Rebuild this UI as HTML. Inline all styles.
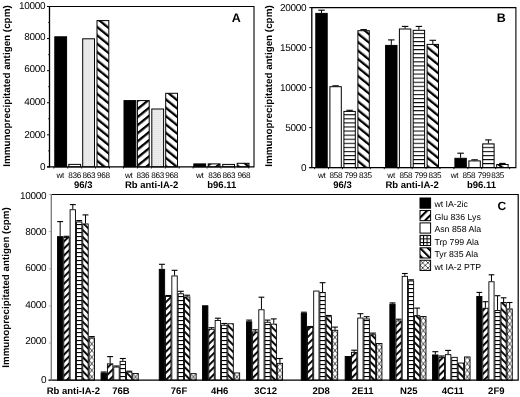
<!DOCTYPE html>
<html><head><meta charset="utf-8"><title>Figure</title>
<style>svg{will-change:transform;text-rendering:geometricPrecision;filter:blur(0.25px)}html,body{margin:0;padding:0;background:#fff;width:520px;height:397px;overflow:hidden}</style>
</head><body>
<svg width="520" height="397" viewBox="0 0 520 397" style="display:block"><defs><pattern id="hA1" patternUnits="userSpaceOnUse" width="6.5" height="6.5" patternTransform="translate(0,0) rotate(-51)"><rect width="6.5" height="6.5" fill="#fff"/><rect x="0" y="0" width="2.3" height="6.5" fill="#000"/></pattern><pattern id="hA2" patternUnits="userSpaceOnUse" width="6.3" height="6.3" patternTransform="translate(0,0) rotate(51)"><rect width="6.3" height="6.3" fill="#fff"/><rect x="0" y="0" width="2.3" height="6.3" fill="#000"/></pattern><pattern id="hB1" patternUnits="userSpaceOnUse" width="6.6" height="6.6" patternTransform="translate(0,0) rotate(-51)"><rect width="6.6" height="6.6" fill="#fff"/><rect x="0" y="0" width="2.3" height="6.6" fill="#000"/></pattern><pattern id="hC1" patternUnits="userSpaceOnUse" width="5.0" height="5.0" patternTransform="translate(0,0) rotate(45)"><rect width="5.0" height="5.0" fill="#fff"/><rect x="0" y="0" width="1.9" height="5.0" fill="#000"/></pattern><pattern id="hC2" patternUnits="userSpaceOnUse" width="5.0" height="5.0" patternTransform="translate(0,0) rotate(-45)"><rect width="5.0" height="5.0" fill="#fff"/><rect x="0" y="0" width="1.9" height="5.0" fill="#000"/></pattern><pattern id="hL1" patternUnits="userSpaceOnUse" width="5.5" height="5.5" patternTransform="rotate(45) translate(4.45,0)"><rect width="5.5" height="5.5" fill="#fff"/><rect width="2.1" height="5.5" fill="#000"/></pattern><pattern id="hL2" patternUnits="userSpaceOnUse" width="5.5" height="5.5" patternTransform="rotate(-45) translate(5.12,0)"><rect width="5.5" height="5.5" fill="#fff"/><rect width="2.1" height="5.5" fill="#000"/></pattern><pattern id="hz" patternUnits="userSpaceOnUse" width="4" height="4.07" y="0.3"><rect width="4" height="4.07" fill="#fff"/><rect y="0" width="4" height="1.05" fill="#000"/></pattern><pattern id="grid" patternUnits="userSpaceOnUse" width="4" height="4.0"><rect width="4" height="4.0" fill="#fff"/><rect y="0" width="4" height="1.1" fill="#000"/></pattern><pattern id="gridL" patternUnits="userSpaceOnUse" width="3.55" height="3.55" x="423.05" y="238.40"><rect width="3.55" height="3.55" fill="#fff"/><rect y="0" width="3.55" height="1" fill="#000"/><rect x="0" width="1" height="3.55" fill="#000"/></pattern><pattern id="xL" patternUnits="userSpaceOnUse" width="5.3" height="5.1" x="420.0" y="260.25"><rect width="5.3" height="5.1" fill="#fff"/><path d="M0,0 L5.3,5.1 M5.3,0 L0,5.1" stroke="#000" stroke-width="0.65"/></pattern><pattern id="xh" patternUnits="userSpaceOnUse" width="6.3" height="6.3"><rect width="6.3" height="6.3" fill="#fff"/><path d="M0,0 L6.3,6.3 M6.3,0 L0,6.3" stroke="#000" stroke-width="1.0"/></pattern><pattern id="dot" patternUnits="userSpaceOnUse" width="2" height="2"><rect width="2" height="2" fill="#ebebeb"/><rect width="1" height="1" fill="#e2e2e2"/></pattern></defs><rect width="520" height="397" fill="#fff"/><line x1="48.3" y1="150.86" x2="49.5" y2="150.86" stroke="#000" stroke-width="1"/><line x1="48.3" y1="118.78" x2="49.5" y2="118.78" stroke="#000" stroke-width="1"/><line x1="48.3" y1="86.7" x2="49.5" y2="86.7" stroke="#000" stroke-width="1"/><line x1="48.3" y1="54.620000000000005" x2="49.5" y2="54.620000000000005" stroke="#000" stroke-width="1"/><line x1="48.3" y1="22.539999999999992" x2="49.5" y2="22.539999999999992" stroke="#000" stroke-width="1"/><line x1="47" y1="166.9" x2="49.5" y2="166.9" stroke="#000" stroke-width="1"/><text x="45.2" y="170.05" font-family='"Liberation Sans", sans-serif' font-size="10" font-weight="normal" text-anchor="end" letter-spacing="-0.3">0</text><line x1="47" y1="134.82" x2="49.5" y2="134.82" stroke="#000" stroke-width="1"/><text x="45.2" y="137.9" font-family='"Liberation Sans", sans-serif' font-size="10" font-weight="normal" text-anchor="end" letter-spacing="-0.3">2000</text><line x1="47" y1="102.74" x2="49.5" y2="102.74" stroke="#000" stroke-width="1"/><text x="45.2" y="104.55" font-family='"Liberation Sans", sans-serif' font-size="10" font-weight="normal" text-anchor="end" letter-spacing="-0.3">4000</text><line x1="47" y1="70.66000000000001" x2="49.5" y2="70.66000000000001" stroke="#000" stroke-width="1"/><text x="45.2" y="72.25" font-family='"Liberation Sans", sans-serif' font-size="10" font-weight="normal" text-anchor="end" letter-spacing="-0.3">6000</text><line x1="47" y1="38.579999999999984" x2="49.5" y2="38.579999999999984" stroke="#000" stroke-width="1"/><text x="45.2" y="39.65" font-family='"Liberation Sans", sans-serif' font-size="10" font-weight="normal" text-anchor="end" letter-spacing="-0.3">8000</text><line x1="47" y1="6.5" x2="49.5" y2="6.5" stroke="#000" stroke-width="1"/><text x="45.2" y="8.95" font-family='"Liberation Sans", sans-serif' font-size="10" font-weight="normal" text-anchor="end" letter-spacing="-0.3">10000</text><text transform="translate(10.4,86) rotate(-90)" font-family='"Liberation Sans", sans-serif' font-size="9.85" font-weight="bold" text-anchor="middle">Immunoprecipitated antigen (cpm)</text><text x="236.3" y="21.6" font-family='"Liberation Sans", sans-serif' font-size="12.5" font-weight="bold" text-anchor="middle" >A</text><rect x="54.80" y="36.80" width="11.80" height="130.10" fill="#000" stroke="#000" stroke-width="1.0"/><rect x="68.80" y="164.40" width="11.80" height="2.50" fill="#fff" stroke="#000" stroke-width="1.0"/><rect x="82.70" y="38.80" width="11.80" height="128.10" fill="url(#dot)" stroke="#000" stroke-width="1.0"/><rect x="97.00" y="20.60" width="11.80" height="146.30" fill="url(#hA1)" stroke="#000" stroke-width="1.0"/><text x="60.2" y="177.9" font-family='"Liberation Sans", sans-serif' font-size="8.2" font-weight="normal" text-anchor="middle" letter-spacing="-0.3">wt</text><text x="74.6" y="177.9" font-family='"Liberation Sans", sans-serif' font-size="8.2" font-weight="normal" text-anchor="middle" letter-spacing="-0.3">836</text><text x="89.0" y="177.9" font-family='"Liberation Sans", sans-serif' font-size="8.2" font-weight="normal" text-anchor="middle" letter-spacing="-0.3">863</text><text x="103.5" y="177.9" font-family='"Liberation Sans", sans-serif' font-size="8.2" font-weight="normal" text-anchor="middle" letter-spacing="-0.3">968</text><text x="83.3" y="187.6" font-family='"Liberation Sans", sans-serif' font-size="9.5" font-weight="bold" text-anchor="middle" >96/3</text><rect x="124.00" y="100.60" width="11.80" height="66.30" fill="#000" stroke="#000" stroke-width="1.0"/><rect x="137.40" y="100.60" width="11.80" height="66.30" fill="url(#hA2)" stroke="#000" stroke-width="1.0"/><rect x="151.80" y="109.00" width="11.80" height="57.90" fill="url(#dot)" stroke="#000" stroke-width="1.0"/><rect x="165.70" y="93.30" width="11.80" height="73.60" fill="url(#hA1)" stroke="#000" stroke-width="1.0"/><text x="128.7" y="177.9" font-family='"Liberation Sans", sans-serif' font-size="8.2" font-weight="normal" text-anchor="middle" letter-spacing="-0.3">wt</text><text x="143.0" y="177.9" font-family='"Liberation Sans", sans-serif' font-size="8.2" font-weight="normal" text-anchor="middle" letter-spacing="-0.3">836</text><text x="157.7" y="177.9" font-family='"Liberation Sans", sans-serif' font-size="8.2" font-weight="normal" text-anchor="middle" letter-spacing="-0.3">863</text><text x="171.7" y="177.9" font-family='"Liberation Sans", sans-serif' font-size="8.2" font-weight="normal" text-anchor="middle" letter-spacing="-0.3">968</text><text x="151.6" y="187.6" font-family='"Liberation Sans", sans-serif' font-size="9.5" font-weight="bold" text-anchor="middle" >Rb anti-IA-2</text><rect x="193.80" y="163.90" width="11.80" height="3.00" fill="#000" stroke="#000" stroke-width="1.0"/><rect x="208.20" y="163.90" width="11.80" height="3.00" fill="url(#hA2)" stroke="#000" stroke-width="1.0"/><rect x="222.70" y="164.40" width="11.80" height="2.50" fill="url(#dot)" stroke="#000" stroke-width="1.0"/><rect x="237.20" y="163.30" width="11.80" height="3.60" fill="url(#hA1)" stroke="#000" stroke-width="1.0"/><text x="199.8" y="177.9" font-family='"Liberation Sans", sans-serif' font-size="8.2" font-weight="normal" text-anchor="middle" letter-spacing="-0.3">wt</text><text x="214.6" y="177.9" font-family='"Liberation Sans", sans-serif' font-size="8.2" font-weight="normal" text-anchor="middle" letter-spacing="-0.3">836</text><text x="228.8" y="177.9" font-family='"Liberation Sans", sans-serif' font-size="8.2" font-weight="normal" text-anchor="middle" letter-spacing="-0.3">863</text><text x="243.8" y="177.9" font-family='"Liberation Sans", sans-serif' font-size="8.2" font-weight="normal" text-anchor="middle" letter-spacing="-0.3">968</text><text x="221.8" y="187.6" font-family='"Liberation Sans", sans-serif' font-size="9.5" font-weight="bold" text-anchor="middle" >b96.11</text><line x1="53.8" y1="166.9" x2="53.8" y2="168.5" stroke="#000" stroke-width="0.9"/><line x1="67.72999999999999" y1="166.9" x2="67.72999999999999" y2="168.5" stroke="#000" stroke-width="0.9"/><line x1="81.66" y1="166.9" x2="81.66" y2="168.5" stroke="#000" stroke-width="0.9"/><line x1="95.59" y1="166.9" x2="95.59" y2="168.5" stroke="#000" stroke-width="0.9"/><line x1="109.52" y1="166.9" x2="109.52" y2="168.5" stroke="#000" stroke-width="0.9"/><line x1="123.45" y1="166.9" x2="123.45" y2="168.5" stroke="#000" stroke-width="0.9"/><line x1="137.38" y1="166.9" x2="137.38" y2="168.5" stroke="#000" stroke-width="0.9"/><line x1="151.31" y1="166.9" x2="151.31" y2="168.5" stroke="#000" stroke-width="0.9"/><line x1="165.24" y1="166.9" x2="165.24" y2="168.5" stroke="#000" stroke-width="0.9"/><line x1="179.17000000000002" y1="166.9" x2="179.17000000000002" y2="168.5" stroke="#000" stroke-width="0.9"/><line x1="193.10000000000002" y1="166.9" x2="193.10000000000002" y2="168.5" stroke="#000" stroke-width="0.9"/><line x1="207.02999999999997" y1="166.9" x2="207.02999999999997" y2="168.5" stroke="#000" stroke-width="0.9"/><line x1="220.95999999999998" y1="166.9" x2="220.95999999999998" y2="168.5" stroke="#000" stroke-width="0.9"/><line x1="234.89" y1="166.9" x2="234.89" y2="168.5" stroke="#000" stroke-width="0.9"/><line x1="248.82" y1="166.9" x2="248.82" y2="168.5" stroke="#000" stroke-width="0.9"/><path d="M49.5,6.5 H254 V166.9 H47" fill="none" stroke="#000" stroke-width="1.1"/><line x1="49.5" y1="6.0" x2="49.5" y2="167.4" stroke="#000" stroke-width="1.3"/><line x1="309.3" y1="167.6" x2="311.8" y2="167.6" stroke="#000" stroke-width="1"/><text x="306.2" y="170.95000000000002" font-family='"Liberation Sans", sans-serif' font-size="10" font-weight="normal" text-anchor="end" letter-spacing="-0.3">0</text><line x1="309.3" y1="127.6" x2="311.8" y2="127.6" stroke="#000" stroke-width="1"/><text x="306.2" y="130.85" font-family='"Liberation Sans", sans-serif' font-size="10" font-weight="normal" text-anchor="end" letter-spacing="-0.3">5000</text><line x1="309.3" y1="87.6" x2="311.8" y2="87.6" stroke="#000" stroke-width="1"/><text x="306.2" y="90.85" font-family='"Liberation Sans", sans-serif' font-size="10" font-weight="normal" text-anchor="end" letter-spacing="-0.3">10000</text><line x1="309.3" y1="47.599999999999994" x2="311.8" y2="47.599999999999994" stroke="#000" stroke-width="1"/><text x="306.2" y="50.5" font-family='"Liberation Sans", sans-serif' font-size="10" font-weight="normal" text-anchor="end" letter-spacing="-0.3">15000</text><line x1="309.3" y1="7.599999999999994" x2="311.8" y2="7.599999999999994" stroke="#000" stroke-width="1"/><text x="306.2" y="11.45" font-family='"Liberation Sans", sans-serif' font-size="10" font-weight="normal" text-anchor="end" letter-spacing="-0.3">20000</text><text transform="translate(272.4,86) rotate(-90)" font-family='"Liberation Sans", sans-serif' font-size="9.85" font-weight="bold" text-anchor="middle">Immunoprecipitated antigen (cpm)</text><text x="501.3" y="21.8" font-family='"Liberation Sans", sans-serif' font-size="12.5" font-weight="bold" text-anchor="middle" >B</text><line x1="321.5" y1="10.2" x2="321.5" y2="12.9" stroke="#000" stroke-width="1"/><line x1="318.25" y1="10.2" x2="324.75" y2="10.2" stroke="#000" stroke-width="1.1"/><rect x="315.80" y="13.40" width="11.40" height="154.20" fill="#000" stroke="#000" stroke-width="1.0"/><line x1="335.59999999999997" y1="85.8" x2="335.59999999999997" y2="86.2" stroke="#000" stroke-width="1"/><line x1="332.34999999999997" y1="85.8" x2="338.84999999999997" y2="85.8" stroke="#000" stroke-width="1.1"/><rect x="329.90" y="86.70" width="11.40" height="80.90" fill="#fff" stroke="#000" stroke-width="1.0"/><line x1="349.59999999999997" y1="110.3" x2="349.59999999999997" y2="110.9" stroke="#000" stroke-width="1"/><line x1="346.34999999999997" y1="110.3" x2="352.84999999999997" y2="110.3" stroke="#000" stroke-width="1.1"/><rect x="343.90" y="111.40" width="11.40" height="56.20" fill="url(#hz)" stroke="#000" stroke-width="1.0"/><line x1="363.59999999999997" y1="29.6" x2="363.59999999999997" y2="30.2" stroke="#000" stroke-width="1"/><line x1="360.34999999999997" y1="29.6" x2="366.84999999999997" y2="29.6" stroke="#000" stroke-width="1.1"/><rect x="357.90" y="30.70" width="11.40" height="136.90" fill="url(#hB1)" stroke="#000" stroke-width="1.0"/><text x="321.8" y="178.1" font-family='"Liberation Sans", sans-serif' font-size="8.2" font-weight="normal" text-anchor="middle" letter-spacing="-0.3">wt</text><text x="335.9" y="178.1" font-family='"Liberation Sans", sans-serif' font-size="8.2" font-weight="normal" text-anchor="middle" letter-spacing="-0.3">858</text><text x="350.9" y="178.1" font-family='"Liberation Sans", sans-serif' font-size="8.2" font-weight="normal" text-anchor="middle" letter-spacing="-0.3">799</text><text x="365.4" y="178.1" font-family='"Liberation Sans", sans-serif' font-size="8.2" font-weight="normal" text-anchor="middle" letter-spacing="-0.3">835</text><text x="342.55" y="187.8" font-family='"Liberation Sans", sans-serif' font-size="9.5" font-weight="bold" text-anchor="middle" >96/3</text><line x1="391.3" y1="39.9" x2="391.3" y2="44.9" stroke="#000" stroke-width="1"/><line x1="388.05" y1="39.9" x2="394.55" y2="39.9" stroke="#000" stroke-width="1.1"/><rect x="385.60" y="45.40" width="11.40" height="122.20" fill="#000" stroke="#000" stroke-width="1.0"/><line x1="405.09999999999997" y1="26.4" x2="405.09999999999997" y2="28.5" stroke="#000" stroke-width="1"/><line x1="401.84999999999997" y1="26.4" x2="408.34999999999997" y2="26.4" stroke="#000" stroke-width="1.1"/><rect x="399.40" y="29.00" width="11.40" height="138.60" fill="#fff" stroke="#000" stroke-width="1.0"/><line x1="418.9" y1="26.4" x2="418.9" y2="29.8" stroke="#000" stroke-width="1"/><line x1="415.65" y1="26.4" x2="422.15" y2="26.4" stroke="#000" stroke-width="1.1"/><rect x="413.20" y="30.30" width="11.40" height="137.30" fill="url(#hz)" stroke="#000" stroke-width="1.0"/><line x1="432.8" y1="40.3" x2="432.8" y2="43.9" stroke="#000" stroke-width="1"/><line x1="429.55" y1="40.3" x2="436.05" y2="40.3" stroke="#000" stroke-width="1.1"/><rect x="427.10" y="44.40" width="11.40" height="123.20" fill="url(#hB1)" stroke="#000" stroke-width="1.0"/><text x="391.1" y="178.1" font-family='"Liberation Sans", sans-serif' font-size="8.2" font-weight="normal" text-anchor="middle" letter-spacing="-0.3">wt</text><text x="405.8" y="178.1" font-family='"Liberation Sans", sans-serif' font-size="8.2" font-weight="normal" text-anchor="middle" letter-spacing="-0.3">858</text><text x="420.9" y="178.1" font-family='"Liberation Sans", sans-serif' font-size="8.2" font-weight="normal" text-anchor="middle" letter-spacing="-0.3">799</text><text x="434.9" y="178.1" font-family='"Liberation Sans", sans-serif' font-size="8.2" font-weight="normal" text-anchor="middle" letter-spacing="-0.3">835</text><text x="412.05" y="187.8" font-family='"Liberation Sans", sans-serif' font-size="9.5" font-weight="bold" text-anchor="middle" >Rb anti-IA-2</text><line x1="460.59999999999997" y1="153.2" x2="460.59999999999997" y2="157.8" stroke="#000" stroke-width="1"/><line x1="457.34999999999997" y1="153.2" x2="463.84999999999997" y2="153.2" stroke="#000" stroke-width="1.1"/><rect x="454.90" y="158.30" width="11.40" height="9.30" fill="#000" stroke="#000" stroke-width="1.0"/><line x1="474.59999999999997" y1="159.8" x2="474.59999999999997" y2="160.4" stroke="#000" stroke-width="1"/><line x1="471.34999999999997" y1="159.8" x2="477.84999999999997" y2="159.8" stroke="#000" stroke-width="1.1"/><rect x="468.90" y="160.90" width="11.40" height="6.70" fill="#fff" stroke="#000" stroke-width="1.0"/><line x1="488.4" y1="139.9" x2="488.4" y2="143.4" stroke="#000" stroke-width="1"/><line x1="485.15" y1="139.9" x2="491.65" y2="139.9" stroke="#000" stroke-width="1.1"/><rect x="482.70" y="143.90" width="11.40" height="23.70" fill="url(#hz)" stroke="#000" stroke-width="1.0"/><line x1="502.4" y1="163.4" x2="502.4" y2="164.0" stroke="#000" stroke-width="1"/><line x1="499.15" y1="163.4" x2="505.65" y2="163.4" stroke="#000" stroke-width="1.1"/><rect x="496.70" y="164.50" width="11.40" height="3.10" fill="url(#hB1)" stroke="#000" stroke-width="1.0"/><text x="454.5" y="178.1" font-family='"Liberation Sans", sans-serif' font-size="8.2" font-weight="normal" text-anchor="middle" letter-spacing="-0.3">wt</text><text x="469.0" y="178.1" font-family='"Liberation Sans", sans-serif' font-size="8.2" font-weight="normal" text-anchor="middle" letter-spacing="-0.3">858</text><text x="484.2" y="178.1" font-family='"Liberation Sans", sans-serif' font-size="8.2" font-weight="normal" text-anchor="middle" letter-spacing="-0.3">799</text><text x="497.7" y="178.1" font-family='"Liberation Sans", sans-serif' font-size="8.2" font-weight="normal" text-anchor="middle" letter-spacing="-0.3">835</text><text x="481.49999999999994" y="187.8" font-family='"Liberation Sans", sans-serif' font-size="9.5" font-weight="bold" text-anchor="middle" >b96.11</text><line x1="314.6" y1="167.6" x2="314.6" y2="169.2" stroke="#000" stroke-width="0.9"/><line x1="328.53000000000003" y1="167.6" x2="328.53000000000003" y2="169.2" stroke="#000" stroke-width="0.9"/><line x1="342.46000000000004" y1="167.6" x2="342.46000000000004" y2="169.2" stroke="#000" stroke-width="0.9"/><line x1="356.39000000000004" y1="167.6" x2="356.39000000000004" y2="169.2" stroke="#000" stroke-width="0.9"/><line x1="370.32000000000005" y1="167.6" x2="370.32000000000005" y2="169.2" stroke="#000" stroke-width="0.9"/><line x1="384.25" y1="167.6" x2="384.25" y2="169.2" stroke="#000" stroke-width="0.9"/><line x1="398.18" y1="167.6" x2="398.18" y2="169.2" stroke="#000" stroke-width="0.9"/><line x1="412.11" y1="167.6" x2="412.11" y2="169.2" stroke="#000" stroke-width="0.9"/><line x1="426.04" y1="167.6" x2="426.04" y2="169.2" stroke="#000" stroke-width="0.9"/><line x1="439.97" y1="167.6" x2="439.97" y2="169.2" stroke="#000" stroke-width="0.9"/><line x1="453.90000000000003" y1="167.6" x2="453.90000000000003" y2="169.2" stroke="#000" stroke-width="0.9"/><line x1="467.83000000000004" y1="167.6" x2="467.83000000000004" y2="169.2" stroke="#000" stroke-width="0.9"/><line x1="481.76" y1="167.6" x2="481.76" y2="169.2" stroke="#000" stroke-width="0.9"/><line x1="495.69000000000005" y1="167.6" x2="495.69000000000005" y2="169.2" stroke="#000" stroke-width="0.9"/><line x1="509.62" y1="167.6" x2="509.62" y2="169.2" stroke="#000" stroke-width="0.9"/><path d="M311.8,7.6 H515.9 V167.6 H309.3" fill="none" stroke="#000" stroke-width="1.1"/><line x1="311.8" y1="7.1" x2="311.8" y2="168.1" stroke="#000" stroke-width="1.3"/><line x1="48.8" y1="380.2" x2="51.3" y2="380.2" stroke="#999" stroke-width="0.7"/><text x="46.3" y="383.45" font-family='"Liberation Sans", sans-serif' font-size="10" font-weight="normal" text-anchor="end" letter-spacing="-0.3">0</text><line x1="48.8" y1="343.06" x2="51.3" y2="343.06" stroke="#999" stroke-width="0.7"/><text x="46.3" y="344.05" font-family='"Liberation Sans", sans-serif' font-size="10" font-weight="normal" text-anchor="end" letter-spacing="-0.3">2000</text><line x1="48.8" y1="305.91999999999996" x2="51.3" y2="305.91999999999996" stroke="#999" stroke-width="0.7"/><text x="46.3" y="307.85" font-family='"Liberation Sans", sans-serif' font-size="10" font-weight="normal" text-anchor="end" letter-spacing="-0.3">4000</text><line x1="48.8" y1="268.78" x2="51.3" y2="268.78" stroke="#999" stroke-width="0.7"/><text x="46.3" y="270.85" font-family='"Liberation Sans", sans-serif' font-size="10" font-weight="normal" text-anchor="end" letter-spacing="-0.3">6000</text><line x1="48.8" y1="231.64" x2="51.3" y2="231.64" stroke="#999" stroke-width="0.7"/><text x="46.3" y="235.25" font-family='"Liberation Sans", sans-serif' font-size="10" font-weight="normal" text-anchor="end" letter-spacing="-0.3">8000</text><line x1="48.8" y1="194.5" x2="51.3" y2="194.5" stroke="#999" stroke-width="0.7"/><text x="46.3" y="199.15" font-family='"Liberation Sans", sans-serif' font-size="10" font-weight="normal" text-anchor="end" letter-spacing="-0.3">10000</text><text transform="translate(9.3,287.5) rotate(-90)" font-family='"Liberation Sans", sans-serif' font-size="9.8" font-weight="bold" text-anchor="middle">Immunoprecipitated antigen (cpm)</text><text x="501.8" y="209.6" font-family='"Liberation Sans", sans-serif' font-size="12" font-weight="bold" text-anchor="middle" >C</text><line x1="60.165" y1="221.6" x2="60.165" y2="236.2" stroke="#000" stroke-width="1"/><line x1="57.2" y1="221.6" x2="63.129999999999995" y2="221.6" stroke="#000" stroke-width="1.1"/><rect x="57.45" y="236.65" width="5.43" height="143.55" fill="#000" stroke="#000" stroke-width="0.9"/><line x1="66.495" y1="236.3" x2="66.495" y2="237.1" stroke="#000" stroke-width="1"/><line x1="63.53" y1="236.3" x2="69.46000000000001" y2="236.3" stroke="#000" stroke-width="1.1"/><rect x="63.78" y="237.55" width="5.43" height="142.65" fill="url(#hC1)" stroke="#000" stroke-width="0.9"/><line x1="72.825" y1="204.6" x2="72.825" y2="209.3" stroke="#000" stroke-width="1"/><line x1="69.86" y1="204.6" x2="75.79" y2="204.6" stroke="#000" stroke-width="1.1"/><rect x="70.11" y="209.75" width="5.43" height="170.45" fill="#fff" stroke="#000" stroke-width="0.9"/><line x1="79.15500000000002" y1="220.6" x2="79.15500000000002" y2="221.5" stroke="#000" stroke-width="1"/><line x1="76.19000000000001" y1="220.6" x2="82.12000000000002" y2="220.6" stroke="#000" stroke-width="1.1"/><rect x="76.44" y="221.95" width="5.43" height="158.25" fill="url(#grid)" stroke="#000" stroke-width="0.9"/><line x1="85.485" y1="214.9" x2="85.485" y2="223.5" stroke="#000" stroke-width="1"/><line x1="82.52" y1="214.9" x2="88.45" y2="214.9" stroke="#000" stroke-width="1.1"/><rect x="82.77" y="223.95" width="5.43" height="156.25" fill="url(#hC2)" stroke="#000" stroke-width="0.9"/><pattern id="xh0" patternUnits="userSpaceOnUse" x="89.10" y="380.20" width="5.43" height="6.6"><rect width="5.43" height="6.6" fill="#fff"/><path d="M0,0 L5.43,6.6 M5.43,0 L0,6.6" stroke="#000" stroke-width="0.75"/></pattern><line x1="91.81500000000001" y1="336.6" x2="91.81500000000001" y2="337.5" stroke="#000" stroke-width="1"/><line x1="88.85000000000001" y1="336.6" x2="94.78000000000002" y2="336.6" stroke="#000" stroke-width="1.1"/><rect x="89.10" y="337.95" width="5.43" height="42.25" fill="url(#xh0)" stroke="#000" stroke-width="0.9"/><text x="73.3" y="394.2" font-family='"Liberation Sans", sans-serif' font-size="9.5" font-weight="bold" text-anchor="middle" >Rb anti-IA-2</text><line x1="103.77499999999999" y1="372" x2="103.77499999999999" y2="372.6" stroke="#000" stroke-width="1"/><line x1="100.8" y1="372" x2="106.74999999999999" y2="372" stroke="#000" stroke-width="1.1"/><rect x="101.05" y="373.05" width="5.45" height="7.15" fill="#000" stroke="#000" stroke-width="0.9"/><line x1="110.12499999999999" y1="356.6" x2="110.12499999999999" y2="363.4" stroke="#000" stroke-width="1"/><line x1="107.14999999999999" y1="356.6" x2="113.09999999999998" y2="356.6" stroke="#000" stroke-width="1.1"/><rect x="107.40" y="363.85" width="5.45" height="16.35" fill="url(#hC1)" stroke="#000" stroke-width="0.9"/><line x1="116.475" y1="366" x2="116.475" y2="366.6" stroke="#000" stroke-width="1"/><line x1="113.5" y1="366" x2="119.44999999999999" y2="366" stroke="#000" stroke-width="1.1"/><rect x="113.75" y="367.05" width="5.45" height="13.15" fill="#fff" stroke="#000" stroke-width="0.9"/><line x1="122.82499999999999" y1="358.5" x2="122.82499999999999" y2="360.9" stroke="#000" stroke-width="1"/><line x1="119.85" y1="358.5" x2="125.79999999999998" y2="358.5" stroke="#000" stroke-width="1.1"/><rect x="120.10" y="361.35" width="5.45" height="18.85" fill="url(#grid)" stroke="#000" stroke-width="0.9"/><line x1="129.175" y1="371.2" x2="129.175" y2="371.7" stroke="#000" stroke-width="1"/><line x1="126.20000000000002" y1="371.2" x2="132.15" y2="371.2" stroke="#000" stroke-width="1.1"/><rect x="126.45" y="372.15" width="5.45" height="8.05" fill="url(#hC2)" stroke="#000" stroke-width="0.9"/><pattern id="xh1" patternUnits="userSpaceOnUse" x="132.80" y="380.20" width="5.45" height="6.6"><rect width="5.45" height="6.6" fill="#fff"/><path d="M0,0 L5.45,6.6 M5.45,0 L0,6.6" stroke="#000" stroke-width="0.75"/></pattern><rect x="132.80" y="373.55" width="5.45" height="6.65" fill="url(#xh1)" stroke="#000" stroke-width="0.9"/><text x="121.0" y="394.2" font-family='"Liberation Sans", sans-serif' font-size="9.5" font-weight="bold" text-anchor="middle" >76B</text><line x1="161.95000000000002" y1="264.3" x2="161.95000000000002" y2="268.9" stroke="#000" stroke-width="1"/><line x1="159.00000000000003" y1="264.3" x2="164.9" y2="264.3" stroke="#000" stroke-width="1.1"/><rect x="159.25" y="269.35" width="5.40" height="110.85" fill="#000" stroke="#000" stroke-width="0.9"/><line x1="168.25000000000003" y1="295.5" x2="168.25000000000003" y2="296.1" stroke="#000" stroke-width="1"/><line x1="165.30000000000004" y1="295.5" x2="171.20000000000002" y2="295.5" stroke="#000" stroke-width="1.1"/><rect x="165.55" y="296.55" width="5.40" height="83.65" fill="url(#hC1)" stroke="#000" stroke-width="0.9"/><line x1="174.55" y1="270.3" x2="174.55" y2="275.5" stroke="#000" stroke-width="1"/><line x1="171.60000000000002" y1="270.3" x2="177.5" y2="270.3" stroke="#000" stroke-width="1.1"/><rect x="171.85" y="275.95" width="5.40" height="104.25" fill="#fff" stroke="#000" stroke-width="0.9"/><line x1="180.85000000000002" y1="291.3" x2="180.85000000000002" y2="293.3" stroke="#000" stroke-width="1"/><line x1="177.90000000000003" y1="291.3" x2="183.8" y2="291.3" stroke="#000" stroke-width="1.1"/><rect x="178.15" y="293.75" width="5.40" height="86.45" fill="url(#grid)" stroke="#000" stroke-width="0.9"/><line x1="187.15" y1="295.2" x2="187.15" y2="296.5" stroke="#000" stroke-width="1"/><line x1="184.20000000000002" y1="295.2" x2="190.1" y2="295.2" stroke="#000" stroke-width="1.1"/><rect x="184.45" y="296.95" width="5.40" height="83.25" fill="url(#hC2)" stroke="#000" stroke-width="0.9"/><pattern id="xh2" patternUnits="userSpaceOnUse" x="190.75" y="380.20" width="5.40" height="6.6"><rect width="5.40" height="6.6" fill="#fff"/><path d="M0,0 L5.40,6.6 M5.40,0 L0,6.6" stroke="#000" stroke-width="0.75"/></pattern><rect x="190.75" y="373.65" width="5.40" height="6.55" fill="url(#xh2)" stroke="#000" stroke-width="0.9"/><text x="179.0" y="394.2" font-family='"Liberation Sans", sans-serif' font-size="9.5" font-weight="bold" text-anchor="middle" >76F</text><rect x="202.45" y="305.75" width="5.45" height="74.45" fill="#000" stroke="#000" stroke-width="0.9"/><line x1="211.525" y1="327.7" x2="211.525" y2="328.8" stroke="#000" stroke-width="1"/><line x1="208.55" y1="327.7" x2="214.5" y2="327.7" stroke="#000" stroke-width="1.1"/><rect x="208.80" y="329.25" width="5.45" height="50.95" fill="url(#hC1)" stroke="#000" stroke-width="0.9"/><line x1="217.875" y1="318.2" x2="217.875" y2="320.0" stroke="#000" stroke-width="1"/><line x1="214.9" y1="318.2" x2="220.85" y2="318.2" stroke="#000" stroke-width="1.1"/><rect x="215.15" y="320.45" width="5.45" height="59.75" fill="#fff" stroke="#000" stroke-width="0.9"/><line x1="224.22500000000002" y1="323.5" x2="224.22500000000002" y2="324.8" stroke="#000" stroke-width="1"/><line x1="221.25000000000003" y1="323.5" x2="227.20000000000002" y2="323.5" stroke="#000" stroke-width="1.1"/><rect x="221.50" y="325.25" width="5.45" height="54.95" fill="url(#grid)" stroke="#000" stroke-width="0.9"/><rect x="227.85" y="323.75" width="5.45" height="56.45" fill="url(#hC2)" stroke="#000" stroke-width="0.9"/><pattern id="xh3" patternUnits="userSpaceOnUse" x="234.20" y="380.20" width="5.45" height="6.6"><rect width="5.45" height="6.6" fill="#fff"/><path d="M0,0 L5.45,6.6 M5.45,0 L0,6.6" stroke="#000" stroke-width="0.75"/></pattern><rect x="234.20" y="372.95" width="5.45" height="7.25" fill="url(#xh3)" stroke="#000" stroke-width="0.9"/><text x="219.7" y="394.2" font-family='"Liberation Sans", sans-serif' font-size="9.5" font-weight="bold" text-anchor="middle" >4H6</text><line x1="249.085" y1="320.1" x2="249.085" y2="321.3" stroke="#000" stroke-width="1"/><line x1="246.20000000000002" y1="320.1" x2="251.97" y2="320.1" stroke="#000" stroke-width="1.1"/><rect x="246.45" y="321.75" width="5.27" height="58.45" fill="#000" stroke="#000" stroke-width="0.9"/><line x1="255.255" y1="329.8" x2="255.255" y2="331.5" stroke="#000" stroke-width="1"/><line x1="252.37" y1="329.8" x2="258.14" y2="329.8" stroke="#000" stroke-width="1.1"/><rect x="252.62" y="331.95" width="5.27" height="48.25" fill="url(#hC1)" stroke="#000" stroke-width="0.9"/><line x1="261.42499999999995" y1="297.2" x2="261.42499999999995" y2="309.3" stroke="#000" stroke-width="1"/><line x1="258.53999999999996" y1="297.2" x2="264.30999999999995" y2="297.2" stroke="#000" stroke-width="1.1"/><rect x="258.79" y="309.75" width="5.27" height="70.45" fill="#fff" stroke="#000" stroke-width="0.9"/><line x1="267.59499999999997" y1="320.1" x2="267.59499999999997" y2="321.8" stroke="#000" stroke-width="1"/><line x1="264.71" y1="320.1" x2="270.47999999999996" y2="320.1" stroke="#000" stroke-width="1.1"/><rect x="264.96" y="322.25" width="5.27" height="57.95" fill="url(#grid)" stroke="#000" stroke-width="0.9"/><line x1="273.765" y1="318.9" x2="273.765" y2="323.7" stroke="#000" stroke-width="1"/><line x1="270.88" y1="318.9" x2="276.65" y2="318.9" stroke="#000" stroke-width="1.1"/><rect x="271.13" y="324.15" width="5.27" height="56.05" fill="url(#hC2)" stroke="#000" stroke-width="0.9"/><pattern id="xh4" patternUnits="userSpaceOnUse" x="277.30" y="380.20" width="5.27" height="6.6"><rect width="5.27" height="6.6" fill="#fff"/><path d="M0,0 L5.27,6.6 M5.27,0 L0,6.6" stroke="#000" stroke-width="0.75"/></pattern><line x1="279.935" y1="358.5" x2="279.935" y2="362.9" stroke="#000" stroke-width="1"/><line x1="277.05" y1="358.5" x2="282.82" y2="358.5" stroke="#000" stroke-width="1.1"/><rect x="277.30" y="363.35" width="5.27" height="16.85" fill="url(#xh4)" stroke="#000" stroke-width="0.9"/><text x="265.6" y="394.2" font-family='"Liberation Sans", sans-serif' font-size="9.5" font-weight="bold" text-anchor="middle" >3C12</text><line x1="303.91" y1="312.2" x2="303.91" y2="312.9" stroke="#000" stroke-width="1"/><line x1="301.0" y1="312.2" x2="306.82000000000005" y2="312.2" stroke="#000" stroke-width="1.1"/><rect x="301.25" y="313.35" width="5.32" height="66.85" fill="#000" stroke="#000" stroke-width="0.9"/><line x1="310.13000000000005" y1="326.5" x2="310.13000000000005" y2="327.1" stroke="#000" stroke-width="1"/><line x1="307.22" y1="326.5" x2="313.0400000000001" y2="326.5" stroke="#000" stroke-width="1.1"/><rect x="307.47" y="327.55" width="5.32" height="52.65" fill="url(#hC1)" stroke="#000" stroke-width="0.9"/><rect x="313.69" y="291.05" width="5.32" height="89.15" fill="#fff" stroke="#000" stroke-width="0.9"/><line x1="322.57000000000005" y1="282.7" x2="322.57000000000005" y2="292.1" stroke="#000" stroke-width="1"/><line x1="319.66" y1="282.7" x2="325.4800000000001" y2="282.7" stroke="#000" stroke-width="1.1"/><rect x="319.91" y="292.55" width="5.32" height="87.65" fill="url(#grid)" stroke="#000" stroke-width="0.9"/><line x1="328.79" y1="315.5" x2="328.79" y2="316.3" stroke="#000" stroke-width="1"/><line x1="325.88" y1="315.5" x2="331.70000000000005" y2="315.5" stroke="#000" stroke-width="1.1"/><rect x="326.13" y="316.75" width="5.32" height="63.45" fill="url(#hC2)" stroke="#000" stroke-width="0.9"/><pattern id="xh5" patternUnits="userSpaceOnUse" x="332.35" y="380.20" width="5.32" height="6.6"><rect width="5.32" height="6.6" fill="#fff"/><path d="M0,0 L5.32,6.6 M5.32,0 L0,6.6" stroke="#000" stroke-width="0.75"/></pattern><line x1="335.01000000000005" y1="327.1" x2="335.01000000000005" y2="329.8" stroke="#000" stroke-width="1"/><line x1="332.1" y1="327.1" x2="337.9200000000001" y2="327.1" stroke="#000" stroke-width="1.1"/><rect x="332.35" y="330.25" width="5.32" height="49.95" fill="url(#xh5)" stroke="#000" stroke-width="0.9"/><text x="321.1" y="394.2" font-family='"Liberation Sans", sans-serif' font-size="9.5" font-weight="bold" text-anchor="middle" >2D8</text><rect x="345.15" y="356.45" width="5.38" height="23.75" fill="#000" stroke="#000" stroke-width="0.9"/><line x1="354.11999999999995" y1="350.2" x2="354.11999999999995" y2="351.9" stroke="#000" stroke-width="1"/><line x1="351.17999999999995" y1="350.2" x2="357.05999999999995" y2="350.2" stroke="#000" stroke-width="1.1"/><rect x="351.43" y="352.35" width="5.38" height="27.85" fill="url(#hC1)" stroke="#000" stroke-width="0.9"/><line x1="360.4" y1="313.7" x2="360.4" y2="317.6" stroke="#000" stroke-width="1"/><line x1="357.46" y1="313.7" x2="363.34" y2="313.7" stroke="#000" stroke-width="1.1"/><rect x="357.71" y="318.05" width="5.38" height="62.15" fill="#fff" stroke="#000" stroke-width="0.9"/><line x1="366.67999999999995" y1="316.7" x2="366.67999999999995" y2="318.5" stroke="#000" stroke-width="1"/><line x1="363.73999999999995" y1="316.7" x2="369.61999999999995" y2="316.7" stroke="#000" stroke-width="1.1"/><rect x="363.99" y="318.95" width="5.38" height="61.25" fill="url(#grid)" stroke="#000" stroke-width="0.9"/><line x1="372.96" y1="333.1" x2="372.96" y2="334.3" stroke="#000" stroke-width="1"/><line x1="370.02" y1="333.1" x2="375.9" y2="333.1" stroke="#000" stroke-width="1.1"/><rect x="370.27" y="334.75" width="5.38" height="45.45" fill="url(#hC2)" stroke="#000" stroke-width="0.9"/><pattern id="xh6" patternUnits="userSpaceOnUse" x="376.55" y="380.20" width="5.38" height="6.6"><rect width="5.38" height="6.6" fill="#fff"/><path d="M0,0 L5.38,6.6 M5.38,0 L0,6.6" stroke="#000" stroke-width="0.75"/></pattern><rect x="376.55" y="343.55" width="5.38" height="36.65" fill="url(#xh6)" stroke="#000" stroke-width="0.9"/><text x="362.7" y="394.2" font-family='"Liberation Sans", sans-serif' font-size="9.5" font-weight="bold" text-anchor="middle" >2E11</text><line x1="392.48499999999996" y1="302.9" x2="392.48499999999996" y2="303.7" stroke="#000" stroke-width="1"/><line x1="389.59999999999997" y1="302.9" x2="395.36999999999995" y2="302.9" stroke="#000" stroke-width="1.1"/><rect x="389.85" y="304.15" width="5.27" height="76.05" fill="#000" stroke="#000" stroke-width="0.9"/><line x1="398.655" y1="319.2" x2="398.655" y2="320.5" stroke="#000" stroke-width="1"/><line x1="395.77" y1="319.2" x2="401.53999999999996" y2="319.2" stroke="#000" stroke-width="1.1"/><rect x="396.02" y="320.95" width="5.27" height="59.25" fill="url(#hC1)" stroke="#000" stroke-width="0.9"/><line x1="404.82499999999993" y1="273.5" x2="404.82499999999993" y2="275.9" stroke="#000" stroke-width="1"/><line x1="401.93999999999994" y1="273.5" x2="407.7099999999999" y2="273.5" stroke="#000" stroke-width="1.1"/><rect x="402.19" y="276.35" width="5.27" height="103.85" fill="#fff" stroke="#000" stroke-width="0.9"/><line x1="410.99499999999995" y1="279.8" x2="410.99499999999995" y2="280.5" stroke="#000" stroke-width="1"/><line x1="408.10999999999996" y1="279.8" x2="413.87999999999994" y2="279.8" stroke="#000" stroke-width="1.1"/><rect x="408.36" y="280.95" width="5.27" height="99.25" fill="url(#grid)" stroke="#000" stroke-width="0.9"/><line x1="417.16499999999996" y1="308.1" x2="417.16499999999996" y2="315.2" stroke="#000" stroke-width="1"/><line x1="414.28" y1="308.1" x2="420.04999999999995" y2="308.1" stroke="#000" stroke-width="1.1"/><rect x="414.53" y="315.65" width="5.27" height="64.55" fill="url(#hC2)" stroke="#000" stroke-width="0.9"/><pattern id="xh7" patternUnits="userSpaceOnUse" x="420.70" y="380.20" width="5.27" height="6.6"><rect width="5.27" height="6.6" fill="#fff"/><path d="M0,0 L5.27,6.6 M5.27,0 L0,6.6" stroke="#000" stroke-width="0.75"/></pattern><rect x="420.70" y="316.55" width="5.27" height="63.65" fill="url(#xh7)" stroke="#000" stroke-width="0.9"/><text x="408.8" y="394.2" font-family='"Liberation Sans", sans-serif' font-size="9.5" font-weight="bold" text-anchor="middle" >N25</text><line x1="435.3" y1="351.7" x2="435.3" y2="354.5" stroke="#000" stroke-width="1"/><line x1="432.3" y1="351.7" x2="438.3" y2="351.7" stroke="#000" stroke-width="1.1"/><rect x="432.55" y="354.95" width="5.50" height="25.25" fill="#000" stroke="#000" stroke-width="0.9"/><line x1="441.7" y1="356.0" x2="441.7" y2="356.9" stroke="#000" stroke-width="1"/><line x1="438.7" y1="356.0" x2="444.7" y2="356.0" stroke="#000" stroke-width="1.1"/><rect x="438.95" y="357.35" width="5.50" height="22.85" fill="url(#hC1)" stroke="#000" stroke-width="0.9"/><line x1="448.1" y1="350.4" x2="448.1" y2="354.2" stroke="#000" stroke-width="1"/><line x1="445.1" y1="350.4" x2="451.1" y2="350.4" stroke="#000" stroke-width="1.1"/><rect x="445.35" y="354.65" width="5.50" height="25.55" fill="#fff" stroke="#000" stroke-width="0.9"/><rect x="451.75" y="357.35" width="5.50" height="22.85" fill="url(#grid)" stroke="#000" stroke-width="0.9"/><rect x="458.15" y="363.05" width="5.50" height="17.15" fill="url(#hC2)" stroke="#000" stroke-width="0.9"/><pattern id="xh8" patternUnits="userSpaceOnUse" x="464.55" y="380.20" width="5.50" height="6.6"><rect width="5.50" height="6.6" fill="#fff"/><path d="M0,0 L5.50,6.6 M5.50,0 L0,6.6" stroke="#000" stroke-width="0.75"/></pattern><rect x="464.55" y="356.95" width="5.50" height="23.25" fill="url(#xh8)" stroke="#000" stroke-width="0.9"/><text x="452.8" y="394.2" font-family='"Liberation Sans", sans-serif' font-size="9.5" font-weight="bold" text-anchor="middle" >4C11</text><line x1="479.33500000000004" y1="292.4" x2="479.33500000000004" y2="296.0" stroke="#000" stroke-width="1"/><line x1="476.50000000000006" y1="292.4" x2="482.17" y2="292.4" stroke="#000" stroke-width="1.1"/><rect x="476.75" y="296.45" width="5.17" height="83.75" fill="#000" stroke="#000" stroke-width="0.9"/><line x1="485.40500000000003" y1="301.7" x2="485.40500000000003" y2="307.8" stroke="#000" stroke-width="1"/><line x1="482.57000000000005" y1="301.7" x2="488.24" y2="301.7" stroke="#000" stroke-width="1.1"/><rect x="482.82" y="308.25" width="5.17" height="71.95" fill="url(#hC1)" stroke="#000" stroke-width="0.9"/><line x1="491.475" y1="274.8" x2="491.475" y2="281.3" stroke="#000" stroke-width="1"/><line x1="488.64000000000004" y1="274.8" x2="494.31" y2="274.8" stroke="#000" stroke-width="1.1"/><rect x="488.89" y="281.75" width="5.17" height="98.45" fill="#fff" stroke="#000" stroke-width="0.9"/><line x1="497.545" y1="295.7" x2="497.545" y2="310.0" stroke="#000" stroke-width="1"/><line x1="494.71000000000004" y1="295.7" x2="500.38" y2="295.7" stroke="#000" stroke-width="1.1"/><rect x="494.96" y="310.45" width="5.17" height="69.75" fill="url(#grid)" stroke="#000" stroke-width="0.9"/><line x1="503.61500000000007" y1="297.8" x2="503.61500000000007" y2="302.1" stroke="#000" stroke-width="1"/><line x1="500.7800000000001" y1="297.8" x2="506.45000000000005" y2="297.8" stroke="#000" stroke-width="1.1"/><rect x="501.03" y="302.55" width="5.17" height="77.65" fill="url(#hC2)" stroke="#000" stroke-width="0.9"/><pattern id="xh9" patternUnits="userSpaceOnUse" x="507.10" y="380.20" width="5.17" height="6.6"><rect width="5.17" height="6.6" fill="#fff"/><path d="M0,0 L5.17,6.6 M5.17,0 L0,6.6" stroke="#000" stroke-width="0.75"/></pattern><line x1="509.68500000000006" y1="302.5" x2="509.68500000000006" y2="308.5" stroke="#000" stroke-width="1"/><line x1="506.8500000000001" y1="302.5" x2="512.5200000000001" y2="302.5" stroke="#000" stroke-width="1.1"/><rect x="507.10" y="308.95" width="5.17" height="71.25" fill="url(#xh9)" stroke="#000" stroke-width="0.9"/><text x="496.3" y="394.2" font-family='"Liberation Sans", sans-serif' font-size="9.5" font-weight="bold" text-anchor="middle" >2F9</text><path d="M51.3,194.5 H518.2 V380.2 H48.5" fill="none" stroke="#000" stroke-width="1.2"/><line x1="51.3" y1="194.0" x2="51.3" y2="380.7" stroke="#777" stroke-width="1.3"/><rect x="420.0" y="198.00" width="10.6" height="10.2" fill="#000" stroke="#000" stroke-width="1"/><text x="434.4" y="207.3" font-family='"Liberation Sans", sans-serif' font-size="8.75" font-weight="normal" text-anchor="start" >wt IA-2ic</text><rect x="420.0" y="210.45" width="10.6" height="10.2" fill="url(#hL1)" stroke="#000" stroke-width="1"/><text x="434.4" y="219.75" font-family='"Liberation Sans", sans-serif' font-size="8.75" font-weight="normal" text-anchor="start" >Glu 836 Lys</text><rect x="420.0" y="222.90" width="10.6" height="10.2" fill="#fff" stroke="#000" stroke-width="1"/><text x="434.4" y="232.20000000000002" font-family='"Liberation Sans", sans-serif' font-size="8.75" font-weight="normal" text-anchor="start" >Asn 858 Ala</text><rect x="420.0" y="235.35" width="10.6" height="10.2" fill="url(#gridL)" stroke="#000" stroke-width="1"/><text x="434.4" y="244.65" font-family='"Liberation Sans", sans-serif' font-size="8.75" font-weight="normal" text-anchor="start" >Trp 799 Ala</text><rect x="420.0" y="247.80" width="10.6" height="10.2" fill="url(#hL2)" stroke="#000" stroke-width="1"/><text x="434.4" y="257.1" font-family='"Liberation Sans", sans-serif' font-size="8.75" font-weight="normal" text-anchor="start" >Tyr 835 Ala</text><rect x="420.0" y="260.25" width="10.6" height="10.2" fill="url(#xL)" stroke="#000" stroke-width="1"/><text x="434.4" y="269.55" font-family='"Liberation Sans", sans-serif' font-size="8.75" font-weight="normal" text-anchor="start" >wt IA-2 PTP</text></svg>
</body></html>
